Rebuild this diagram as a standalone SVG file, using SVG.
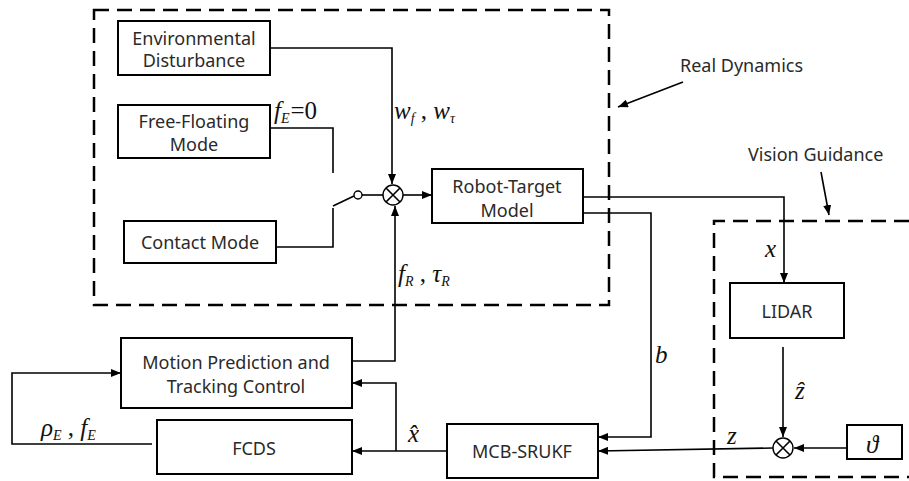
<svg xmlns="http://www.w3.org/2000/svg" width="909" height="481" viewBox="0 0 909 481">
  <style>
    .box { fill: #fff; stroke: #000; stroke-width: 2; }
    .lbl { font-family: "Noto Sans", "Open Sans", sans-serif; font-size: 18px; fill: #2a2a2a; text-anchor: middle; }
    .note { font-family: "Noto Sans", "Open Sans", sans-serif; font-size: 18px; fill: #2a2a2a; }
    .math { font-family: "Liberation Serif", "DejaVu Serif", serif; font-style: italic; font-size: 25px; fill: #111; }
    .sub { font-size: 14px; }
    .up { font-style: normal; }
    .wire { fill: none; stroke: #000; stroke-width: 1.6; }
    .dash { fill: none; stroke: #000; stroke-width: 2.5; stroke-dasharray: 15 8; }
    .sum { fill: #fff; stroke: #000; stroke-width: 1.4; }
  </style>
  <defs>
    <marker id="arrow" viewBox="0 0 10 8" refX="10" refY="4" markerWidth="10" markerHeight="8" markerUnits="userSpaceOnUse" orient="auto">
      <path d="M0,0 L10,4 L0,8 Z" fill="#000"/>
    </marker>
  </defs>

  <rect width="909" height="481" fill="#fff"/>

  <!-- dashed subsystem frames -->
  <g id="frames">
    <rect class="dash" x="94" y="10" width="515" height="295"/>
    <path class="dash" d="M909,221 H714 V477 H909"/>
  </g>

  <!-- connectors -->
  <g id="connectors">
    <!-- disturbance into the summing junction -->
    <path class="wire" d="M270,48 H392 V184" marker-end="url(#arrow)"/>
    <!-- free-floating contact -->
    <path class="wire" d="M270,128 H333 V173"/>
    <!-- contact-mode contact -->
    <path class="wire" d="M276,247 H333 V208"/>
    <!-- switch blade and pivot -->
    <path class="wire" d="M333,206 L354,196"/>
    <circle cx="358" cy="195" r="4" fill="#fff" stroke="#000" stroke-width="1.4"/>
    <path class="wire" d="M362,195 H383"/>
    <!-- sum to robot-target model -->
    <path class="wire" d="M403,195 H432" marker-end="url(#arrow)"/>
    <!-- control forces up to the sum -->
    <path class="wire" d="M352,361 H395 V206" marker-end="url(#arrow)"/>
    <!-- state x to LIDAR -->
    <path class="wire" d="M583,197 H784 V283" marker-end="url(#arrow)"/>
    <!-- b to filter -->
    <path class="wire" d="M583,213 H651 V437 H598" marker-end="url(#arrow)"/>
    <!-- LIDAR to measurement sum -->
    <path class="wire" d="M783,347 V437" marker-end="url(#arrow)"/>
    <!-- noise into measurement sum -->
    <path class="wire" d="M847,448 H794" marker-end="url(#arrow)"/>
    <!-- z to filter -->
    <path class="wire" d="M773,448 L598,451" marker-end="url(#arrow)"/>
    <!-- x-hat to FCDS and motion prediction -->
    <path class="wire" d="M447,451 H352" marker-end="url(#arrow)"/>
    <path class="wire" d="M396,451 V383 H352" marker-end="url(#arrow)"/>
    <!-- FCDS feedback loop -->
    <path class="wire" d="M152,444 H12 V373 H121" marker-end="url(#arrow)"/>
    <!-- annotation pointers -->
    <path class="wire" d="M683,82 L618,107" marker-end="url(#arrow)"/>
    <path class="wire" d="M821,172 L829,215" marker-end="url(#arrow)"/>
  </g>

  <!-- summing junctions -->
  <g id="sum1">
    <circle class="sum" cx="393" cy="195" r="10"/>
    <path class="wire" d="M386,188 L400,202 M400,188 L386,202" stroke-width="1.2"/>
  </g>
  <g id="sum2">
    <circle class="sum" cx="783" cy="448" r="10"/>
    <path class="wire" d="M776,441 L790,455 M790,441 L776,455" stroke-width="1.2"/>
  </g>

  <g id="env">
    <rect class="box" x="118" y="21" width="152" height="54"/>
    <text class="lbl" x="194" y="45">Environmental</text>
    <text class="lbl" x="194" y="67">Disturbance</text>
  </g>
  <g id="free">
    <rect class="box" x="118" y="105" width="152" height="53"/>
    <text class="lbl" x="194" y="128">Free-Floating</text>
    <text class="lbl" x="194" y="151">Mode</text>
  </g>
  <g id="contact">
    <rect class="box" x="124" y="221" width="152" height="42"/>
    <text class="lbl" x="200" y="249">Contact Mode</text>
  </g>
  <g id="robot">
    <rect class="box" x="432" y="169" width="151" height="54"/>
    <text class="lbl" x="507" y="193">Robot-Target</text>
    <text class="lbl" x="507" y="217">Model</text>
  </g>
  <g id="motion">
    <rect class="box" x="121" y="338" width="231" height="70"/>
    <text class="lbl" x="236" y="369">Motion Prediction and</text>
    <text class="lbl" x="236" y="393">Tracking Control</text>
  </g>
  <g id="fcds">
    <rect class="box" x="157" y="420" width="195" height="54"/>
    <text class="lbl" x="254" y="455">FCDS</text>
  </g>
  <g id="filter">
    <rect class="box" x="447" y="424" width="151" height="54"/>
    <text class="lbl" x="522" y="458">MCB-SRUKF</text>
  </g>
  <g id="lidar">
    <rect class="box" x="730" y="283" width="114" height="55"/>
    <text class="lbl" x="787" y="318">LIDAR</text>
  </g>
  <g id="noise">
    <rect class="box" x="847" y="425" width="55" height="34"/>
    <text class="math" x="866" y="453">ϑ</text>
  </g>

  <!-- signal labels -->
  <g id="labels">
    <text class="math" x="274" y="119">f<tspan class="sub" dy="4">E</tspan><tspan class="up" dy="-4" dx="1">=0</tspan></text>
    <text class="math" x="394" y="119">w<tspan class="sub" dy="4">f</tspan><tspan class="up" dy="-4"> , </tspan>w<tspan class="sub" dy="4">τ</tspan></text>
    <text class="math" x="398" y="282">f<tspan class="sub" dy="4">R</tspan><tspan class="up" dy="-4"> , </tspan>τ<tspan class="sub" dy="4">R</tspan></text>
    <text class="math" x="41" y="436">ρ<tspan class="sub" dy="4">E</tspan><tspan class="up" dy="-4"> , </tspan>f<tspan class="sub" dy="4">E</tspan></text>
    <text class="math" x="765" y="257" font-size="28">x</text>
    <text class="math" x="655" y="363" font-size="26">b</text>
    <text class="math" x="408" y="442" font-size="32">x̂</text>
    <text class="math" x="795" y="399" font-size="26">ẑ</text>
    <text class="math" x="727" y="444" font-size="24">z</text>
    <text class="note" x="680" y="72">Real Dynamics</text>
    <text class="note" x="748" y="161">Vision Guidance</text>
  </g>
</svg>
